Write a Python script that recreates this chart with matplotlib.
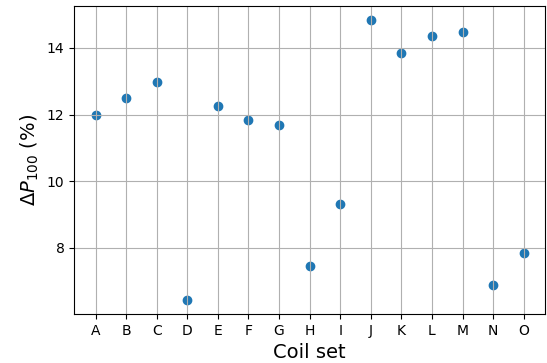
import matplotlib
matplotlib.use("Agg")
import matplotlib.pyplot as plt

coil_sets = ["A", "B", "C", "D", "E", "F", "G", "H", "I", "J", "K", "L", "M", "N", "O"]
delta_p100 = [12.0, 12.51, 12.97, 6.44, 12.27, 11.84, 11.70, 7.47, 9.33,
              14.84, 13.84, 14.34, 14.46, 6.88, 7.84]

fig = plt.figure(figsize=(5.47, 3.63), dpi=100)
ax = fig.add_axes([0.1355, 0.135, 0.861, 0.849])

ax.scatter(coil_sets, delta_p100)
ax.grid(True)
ax.set_xlabel("Coil set", fontsize=14)
ax.set_ylabel(r"$\Delta P_{100}$ (%)", fontsize=14)

fig.savefig("out.png", dpi=100)
